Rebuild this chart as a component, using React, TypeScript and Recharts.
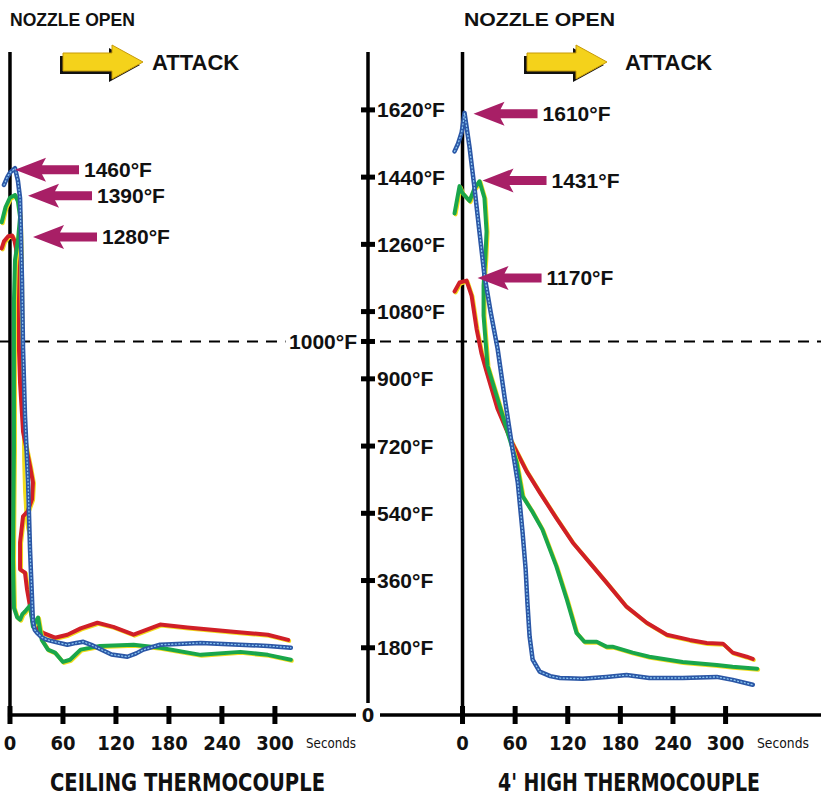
import React from "react";
import { LineChart, Line, XAxis, YAxis, ReferenceLine, ReferenceDot } from "recharts";

// [seconds after nozzle open, °F]
const ceilingBlue: [number, number][] = [
  [-6.8, 1419], [-3, 1440], [0, 1452], [5.7, 1464], [9, 1430], [11.4, 1384], [12.5, 1280],
  [13.6, 1161], [14.8, 981], [17, 801], [20.5, 623], [22.7, 443], [25, 309], [26, 250],
  [28, 228], [30.7, 220], [36, 208], [42, 201], [52, 195], [65, 188], [75, 193], [83, 196],
  [92, 188], [99, 180], [115, 162], [133, 156], [143, 165], [151, 175], [170, 188],
  [216, 193], [260, 188], [292, 185], [318, 180],
];
const ceilingGreen: [number, number][] = [
  [-9.4, 1319], [-5, 1360], [0, 1385], [5.7, 1392], [9, 1375], [11.4, 1333], [9, 1270],
  [5.7, 1218], [4.5, 1111], [4.5, 981], [4.5, 712], [3.4, 416], [4.5, 287], [8, 262],
  [11.4, 255], [14, 270], [17, 277], [22.7, 293], [26, 236], [29, 250], [31.8, 261],
  [36, 201], [43, 175], [51, 167], [60, 142], [68, 148], [80, 175], [102, 185], [140, 188],
  [170, 180], [216, 161], [261, 169], [292, 161], [318, 148],
];
const ceilingRed: [number, number][] = [
  [-9.4, 1249], [-6.8, 1268], [-2, 1282], [2.3, 1284], [5, 1270], [6.8, 1249], [8, 1200],
  [9, 1066], [11.4, 889], [14.8, 758], [22.7, 666], [26, 623], [25, 578], [20, 545],
  [14.8, 532], [11.4, 462], [11.4, 390], [17, 381], [19.3, 336], [22.7, 290], [26, 247],
  [32, 228], [37.5, 220], [51, 207], [65, 215], [80, 232], [99, 247], [117, 236], [140, 215],
  [170, 242], [201, 234], [253, 223], [292, 215], [315, 201],
];
const ceilingYellow: [number, number][] = [
  [6, 1392], [10, 1370], [13, 1320], [14, 1230], [14.5, 1100], [14.8, 950], [15, 800],
  [15.5, 680], [16.5, 600], [18, 540], [20, 500], [23, 470],
];

const highBlue: [number, number][] = [
  [-9.1, 1509], [-5, 1530], [-1, 1560], [1, 1590], [2.3, 1612], [8, 1520], [13.7, 1410],
  [19, 1300], [25, 1177], [32, 1080], [40, 981], [48, 850], [57, 712], [63, 623],
  [68.5, 489], [72, 390], [74, 301], [76.5, 210], [80, 148], [88, 116], [100, 104],
  [111, 99], [137, 97], [164, 102], [187, 107], [213, 99], [251, 99], [290, 102],
  [308, 94], [331, 81],
];
const highGreen: [number, number][] = [
  [-9.1, 1343], [-3.4, 1416], [0, 1397], [8, 1376], [13.7, 1410], [19.4, 1429], [25, 1384],
  [27.4, 1295], [26, 1222], [24, 1150], [24, 1069], [28.5, 935], [40, 846], [53.7, 739],
  [61.6, 677], [68.5, 586], [80, 543], [91, 497], [107, 398], [119, 309], [130, 220],
  [139, 196], [153, 196], [164, 183], [171, 183], [194, 167], [213, 156], [251, 142],
  [290, 134], [308, 129], [336, 124],
];
const highRed: [number, number][] = [
  [-9.1, 1134], [-3.4, 1158], [4.6, 1163], [10.3, 1123], [16, 1034], [21.7, 967],
  [27.4, 919], [40, 819], [56, 731], [73, 653], [88, 596], [107, 527], [125.6, 462],
  [145, 408], [164, 355], [187, 290], [210, 247], [233, 215], [259, 201], [278.5, 193],
  [297, 191], [308, 167], [324, 156], [331, 150],
];

const timeTicks = [0, 60, 120, 180, 240, 300];
const tempTicks = [0, 180, 360, 540, 720, 900, 1000, 1080, 1260, 1440, 1620];
const CRITICAL = 1000;

const ceilingPeaks = [
  { t: 5.7, temp: 1460 },
  { t: 5.7, temp: 1390 },
  { t: 2.3, temp: 1280 },
];
const highPeaks = [
  { t: 2.3, temp: 1610 },
  { t: 19.4, temp: 1431 },
  { t: 4.6, temp: 1170 },
];
// horizontal gap (px) between the peak and the arrow tip
const ceilingGaps = [0, 13, 21];
const highGaps = [9, 3, 11];

const BOLD = "'Liberation Sans', Arial, Helvetica, sans-serif";
const NARROW = "'Liberation Sans Narrow', 'Arial Narrow', 'DejaVu Sans Condensed', sans-serif";
const MAGENTA = "#a81f66";
const YELLOW = "#f1dc1c";
const Y_DOMAIN: [number, number] = [0, 1775];

const toPoints = (arr: [number, number][]) => arr.map(([t, temp]) => ({ t, temp }));

const TimeTick = (props: any) => {
  const { x, y, payload } = props;
  return (
    <g>
      <rect x={x - 2.5} y={y - 9} width={5} height={18} fill="#000" />
      <text x={x} y={y + 35} textAnchor="middle" fontFamily={NARROW} fontWeight="bold" fontSize={20} fill="#111">
        {payload.value}
      </text>
    </g>
  );
};

const TempTick = (props: any) => {
  const { x, y, payload } = props;
  const v = payload.value;
  if (v === 0) {
    return (
      <g>
        <rect x={x - 8} y={y - 12} width={16} height={24} fill="#fff" />
        <text x={x} y={y + 7} textAnchor="middle" fontFamily={NARROW} fontWeight="bold" fontSize={20} fill="#111">
          0
        </text>
      </g>
    );
  }
  const left = v === CRITICAL;
  return (
    <g>
      <rect x={x - 7} y={y - 2.5} width={14} height={5} fill="#000" />
      <text
        x={left ? x - 11 : x + 9}
        y={y + 7.5}
        textAnchor={left ? "end" : "start"}
        fontFamily={BOLD}
        fontWeight="bold"
        fontSize={21}
        fill="#111"
      >
        {v}°F
      </text>
    </g>
  );
};

const PeakArrow = ({ cx, cy, gap, text }: { cx: number; cy: number; gap: number; text: string }) => {
  const tip = cx + gap;
  const pts = [
    [tip, cy], [tip + 31, cy - 12], [tip + 27, cy - 4.5], [tip + 64, cy - 4.5],
    [tip + 64, cy + 4.5], [tip + 27, cy + 4.5], [tip + 31, cy + 12],
  ].map((p) => p.join(",")).join(" ");
  return (
    <g>
      <polygon points={pts} fill={MAGENTA} />
      <text x={tip + 69} y={cy + 7.5} fontFamily={BOLD} fontWeight="bold" fontSize={21} fill="#111">
        {text}
      </text>
    </g>
  );
};

const AttackArrow = ({ x, cy }: { x: number; cy: number }) => {
  const pts = (dx: number, dy: number) =>
    [
      [x, cy - 9], [x + 49, cy - 9], [x + 49, cy - 17], [x + 80, cy], [x + 49, cy + 17],
      [x + 49, cy + 9], [x, cy + 9],
    ].map(([a, b]) => `${a + dx},${b + dy}`).join(" ");
  return (
    <g>
      <polygon points={pts(-3, 3)} fill="#111" />
      <polygon points={pts(0, 0)} fill="#f4d21b" stroke="#c79a08" strokeWidth={1} />
    </g>
  );
};

// draws one trace set; blue gets a dotted light texture over its body
const traces = (prefix: string, blue: any[], green: any[], red: any[], yellow?: any[]) => {
  const common = { type: "linear" as const, dataKey: "temp", dot: false, activeDot: false, isAnimationActive: false, strokeLinejoin: "round" as const, strokeLinecap: "round" as const };
  const out = [];
  if (yellow) out.push(<Line key={prefix + "y"} {...common} data={yellow} stroke={YELLOW} strokeWidth={3} />);
  out.push(<Line key={prefix + "r"} {...common} data={red} stroke="#d01f27" strokeWidth={4} className="ysh" />);
  out.push(<Line key={prefix + "g"} {...common} data={green} stroke="#19a64b" strokeWidth={4} className="ysh" />);
  out.push(<Line key={prefix + "b1"} {...common} data={blue} stroke="#2b57a6" strokeWidth={4.5} />);
  out.push(<Line key={prefix + "b2"} {...common} data={blue} stroke="#8cc6f0" strokeWidth={1.3} strokeDasharray="1 2.5" />);
  return out;
};

export default function App() {
  const cb = toPoints(ceilingBlue);
  const cg = toPoints(ceilingGreen);
  const cr = toPoints(ceilingRed);
  const cy = toPoints(ceilingYellow);
  const hb = toPoints(highBlue);
  const hg = toPoints(highGreen);
  const hr = toPoints(highRed);

  return (
    <div style={{ position: "absolute", left: 0, top: 0, width: 821, height: 798, background: "#fff" }}>
      <style>{`.ysh path.recharts-curve{filter:drop-shadow(1.5px 1.5px 0 ${YELLOW});}`}</style>

      {/* ceiling thermocouple */}
      <div style={{ position: "absolute", left: 0, top: 0 }}>
        <LineChart width={470} height={798} margin={{ top: 52, right: 0, bottom: 0, left: 0 }}>
          <XAxis
            type="number"
            dataKey="t"
            domain={[-11.3, 405.4]}
            ticks={timeTicks}
            interval={0}
            axisLine={false}
            tickLine={false}
            tickSize={0}
            tickMargin={0}
            height={83}
            tick={TimeTick}
          />
          <YAxis
            orientation="right"
            type="number"
            domain={Y_DOMAIN}
            ticks={tempTicks}
            interval={0}
            width={102}
            axisLine={{ stroke: "#000", strokeWidth: 3.5 }}
            tickLine={false}
            tickSize={0}
            tickMargin={0}
            tick={TempTick}
          />
          <ReferenceLine x={0} stroke="#000" strokeWidth={3.5} />
          <ReferenceLine segment={[{ x: -2.3, y: 0 }, { x: 391.8, y: 0 }]} stroke="#000" strokeWidth={3.5} />
          <ReferenceLine
            segment={[{ x: -11.3, y: CRITICAL }, { x: 312, y: CRITICAL }]}
            stroke="#000"
            strokeWidth={2}
            strokeDasharray="11 8"
          />
          {traces("c", cb, cg, cr, cy)}
          {ceilingPeaks.map((p, i) => (
            <ReferenceDot
              key={"cp" + i}
              x={p.t}
              y={p.temp}
              r={0}
              ifOverflow="visible"
              shape={(s: any) => <PeakArrow cx={s.cx} cy={s.cy} gap={ceilingGaps[i]} text={`${p.temp}°F`} />}
            />
          ))}
        </LineChart>
      </div>

      {/* 4' high thermocouple */}
      <div style={{ position: "absolute", left: 380, top: 0 }}>
        <LineChart width={441} height={798} margin={{ top: 52, right: 0, bottom: 0, left: 0 }}>
          <XAxis
            type="number"
            dataKey="t"
            domain={[-94.1, 408.8]}
            ticks={timeTicks}
            interval={0}
            axisLine={{ stroke: "#000", strokeWidth: 3.5 }}
            tickLine={false}
            tickSize={0}
            tickMargin={0}
            height={83}
            tick={TimeTick}
          />
          <YAxis hide type="number" domain={Y_DOMAIN} />
          <ReferenceLine x={0} stroke="#000" strokeWidth={3.5} />
          <ReferenceLine y={CRITICAL} stroke="#000" strokeWidth={2} strokeDasharray="11 8" />
          {traces("h", hb, hg, hr)}
          {highPeaks.map((p, i) => (
            <ReferenceDot
              key={"hp" + i}
              x={p.t}
              y={p.temp}
              r={0}
              ifOverflow="visible"
              shape={(s: any) => <PeakArrow cx={s.cx} cy={s.cy} gap={highGaps[i]} text={`${p.temp}°F`} />}
            />
          ))}
        </LineChart>
      </div>

      {/* titles and captions */}
      <svg width={821} height={798} style={{ position: "absolute", left: 0, top: 0, pointerEvents: "none" }}>
        <text x={10} y={26} fontFamily={BOLD} fontWeight="bold" fontSize={19} textLength={125} lengthAdjust="spacingAndGlyphs" fill="#111">NOZZLE OPEN</text>
        <text x={464} y={26} fontFamily={BOLD} fontWeight="bold" fontSize={19} textLength={151} lengthAdjust="spacingAndGlyphs" fill="#111">NOZZLE OPEN</text>
        <AttackArrow x={63} cy={62} />
        <text x={152} y={70} fontFamily={BOLD} fontWeight="bold" fontSize={22} fill="#111">ATTACK</text>
        <AttackArrow x={527} cy={62} />
        <text x={625} y={70} fontFamily={BOLD} fontWeight="bold" fontSize={22} fill="#111">ATTACK</text>
        <text x={306} y={748} fontFamily={NARROW} fontSize={14} textLength={50} lengthAdjust="spacingAndGlyphs" fill="#111">Seconds</text>
        <text x={757} y={748} fontFamily={NARROW} fontSize={14} textLength={52} lengthAdjust="spacingAndGlyphs" fill="#111">Seconds</text>
        <text x={50} y={791} fontFamily={NARROW} fontWeight="bold" fontSize={24} textLength={275} lengthAdjust="spacingAndGlyphs" fill="#111">CEILING THERMOCOUPLE</text>
        <text x={498} y={791} fontFamily={NARROW} fontWeight="bold" fontSize={24} textLength={262} lengthAdjust="spacingAndGlyphs" fill="#111">4' HIGH THERMOCOUPLE</text>
      </svg>
    </div>
  );
}
